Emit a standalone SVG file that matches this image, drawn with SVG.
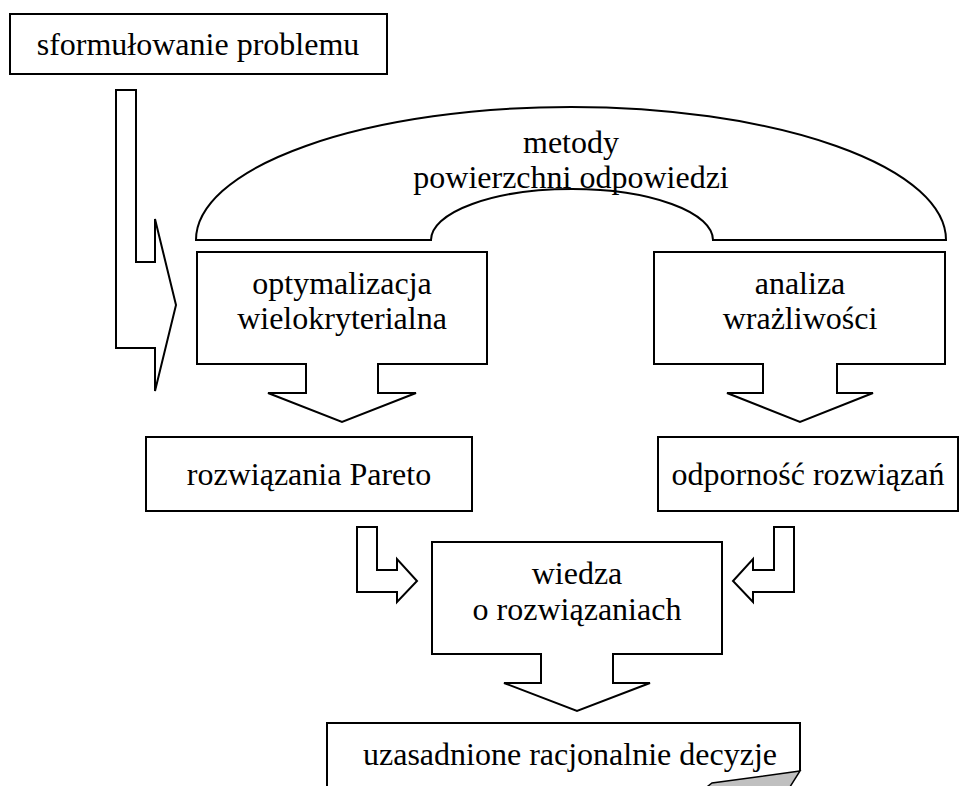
<svg xmlns="http://www.w3.org/2000/svg" width="978" height="786" viewBox="0 0 978 786">
  <style>
    .shape { fill: #ffffff; stroke: #000000; stroke-width: 2; stroke-linejoin: miter; }
    .label { font-family: "Liberation Serif", "Times New Roman", serif; font-size: 32px; fill: #000000; text-anchor: middle; }
    .curl { fill: #c0c0c0; stroke: #000000; stroke-width: 1.5; }
  </style>
  <rect width="978" height="786" fill="#ffffff"/>

  <!-- block arrows between stages -->
  <g id="connectors">
    <path class="shape" d="M116,90 H136 V262 H155 V219 L176,305 L155,391 V348 H116 Z"/>
    <path class="shape" d="M357,527 H377 V570 H397 V559 L417,581 L397,602 V592 H357 Z"/>
    <path class="shape" d="M794,527 H774 V570 H753 V559 L733,581 L753,602 V592 H794 Z"/>
  </g>

  <g id="problem">
    <rect class="shape" x="10" y="14" width="377" height="60"/>
    <text class="label" x="198" y="55">sformułowanie problemu</text>
  </g>

  <g id="rsm">
    <path class="shape" d="M196,240 A375,133 0 0 1 946,240 H713 A141,51 0 0 0 431,240 Z"/>
    <text class="label" x="571" y="153">metody</text>
    <text class="label" x="571" y="188">powierzchni odpowiedzi</text>
  </g>

  <g id="optimization">
    <path class="shape" d="M197,252 H487 V364 H378 V393 H416 L342,422 L268,393 H306 V364 H197 Z"/>
    <text class="label" x="342" y="294">optymalizacja</text>
    <text class="label" x="342" y="329">wielokryterialna</text>
  </g>

  <g id="sensitivity">
    <path class="shape" d="M654,252 H945 V364 H837 V393 H873 L800,422 L727,393 H763 V364 H654 Z"/>
    <text class="label" x="800" y="294">analiza</text>
    <text class="label" x="800" y="329">wrażliwości</text>
  </g>

  <g id="pareto">
    <rect class="shape" x="146" y="437" width="326" height="74"/>
    <text class="label" x="309" y="485">rozwiązania Pareto</text>
  </g>

  <g id="robustness">
    <rect class="shape" x="658" y="437" width="300" height="74"/>
    <text class="label" x="808" y="485">odporność rozwiązań</text>
  </g>

  <g id="knowledge">
    <path class="shape" d="M432,542 H722 V654 H613 V683 H650 L577,711 L504,683 H541 V654 H432 Z"/>
    <text class="label" x="577" y="584">wiedza</text>
    <text class="label" x="577" y="620">o rozwiązaniach</text>
  </g>

  <g id="decisions">
    <path class="shape" d="M327,790 V723 H800 V771"/>
    <text class="label" x="570" y="765">uzasadnione racjonalnie decyzje</text>
    <!-- turned-up corner of the page shape -->
    <path class="curl" d="M703,790 L712,783 L800,771 L788,790 Z"/>
  </g>
</svg>
